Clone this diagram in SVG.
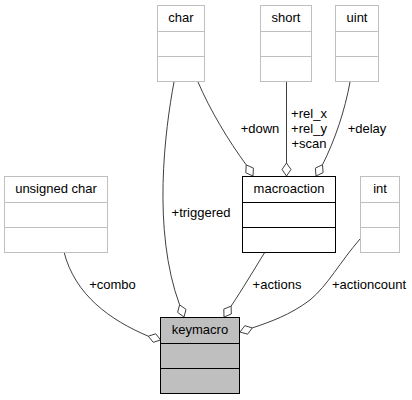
<svg xmlns="http://www.w3.org/2000/svg" width="412" height="400" viewBox="0 0 412 400">
<style>
text{font-family:"Liberation Sans",Arial,sans-serif;font-size:13px;fill:#000;text-anchor:middle}
.g{fill:#fff;stroke:#bfbfbf;stroke-width:1}
.b{fill:#fff;stroke:#000;stroke-width:1}
.k{fill:#bfbfbf;stroke:#000;stroke-width:1}
.gl{fill:none;stroke:#bfbfbf;stroke-width:1}
.bl{fill:none;stroke:#000;stroke-width:1}
.e{fill:none;stroke:#404040;stroke-width:1}
.d{fill:#fff;stroke:#404040;stroke-width:1}
</style>
<rect width="412" height="400" fill="#fff"/>
<g id="connectors">
<path class="e" d="M174,82 C165,130 152,230 179.6,304.8"/>
<polygon class="d" points="184,317 186,309.4 179.6,304.8 177.6,312.4"/>
<path class="e" d="M198,82 C210,110 228,140 246.2,164.9"/>
<polygon class="d" points="253,176 253.4,168.1 246.2,164.9 245.8,172.8"/>
<path class="e" d="M286.5,82 L286.5,163"/>
<polygon class="d" points="286.5,176 291,169.5 286.5,163 282,169.5"/>
<path class="e" d="M350,82 C345,110 335,140 322.5,164.7"/>
<polygon class="d" points="316,176 323.1,172.6 322.5,164.7 315.4,168.1"/>
<path class="e" d="M64,252 C75,295 110,320 148.3,336.2"/>
<polygon class="d" points="160.7,340 153.2,342.3 148.3,336.2 155.7,333.8"/>
<path class="e" d="M265,252 C255,268 242,290 231.1,306.1"/>
<polygon class="d" points="224,317 231.3,314 231.1,306.1 223.8,309.1"/>
<path class="e" d="M360,239 C340,262 328,285 310,300 C290,315 270,322 252.3,327.9"/>
<polygon class="d" points="240,332 247.6,334.2 252.3,327.9 244.8,325.7"/>
<text x="201" y="217">+triggered</text>
<text x="260" y="133">+down</text>
<text x="309" y="118">+rel_x</text>
<text x="309" y="133">+rel_y</text>
<text x="309" y="147.5">+scan</text>
<text x="367" y="133">+delay</text>
<text x="112.5" y="289">+combo</text>
<text x="277" y="289">+actions</text>
<text x="369" y="289">+actioncount</text>
</g>
<g id="node-char">
<rect class="g" x="157.5" y="5.5" width="47" height="76"/>
<path class="gl" d="M157.5,31.5H204.5M157.5,56.5H204.5"/>
<text x="181" y="22">char</text>
</g>
<g id="node-short">
<rect class="g" x="260.5" y="5.5" width="51" height="76"/>
<path class="gl" d="M260.5,31.5H311.5M260.5,56.5H311.5"/>
<text x="286" y="22">short</text>
</g>
<g id="node-uint">
<rect class="g" x="335.5" y="5.5" width="43" height="76"/>
<path class="gl" d="M335.5,31.5H378.5M335.5,56.5H378.5"/>
<text x="357" y="22">uint</text>
</g>
<g id="node-unsigned-char">
<rect class="g" x="4.5" y="176.5" width="103" height="76"/>
<path class="gl" d="M4.5,202.5H107.5M4.5,227.5H107.5"/>
<text x="56" y="193">unsigned char</text>
</g>
<g id="node-macroaction">
<rect class="b" x="242.5" y="176.5" width="93" height="76"/>
<path class="bl" d="M242.5,202.5H335.5M242.5,227.5H335.5"/>
<text x="289" y="193">macroaction</text>
</g>
<g id="node-int">
<rect class="g" x="360.5" y="176.5" width="39" height="76"/>
<path class="gl" d="M360.5,202.5H399.5M360.5,227.5H399.5"/>
<text x="380" y="193">int</text>
</g>
<g id="node-keymacro">
<rect class="k" x="160.5" y="317.5" width="79" height="76"/>
<path class="bl" d="M160.5,343.5H239.5M160.5,368.5H239.5"/>
<text x="200" y="334">keymacro</text>
</g>
</svg>
